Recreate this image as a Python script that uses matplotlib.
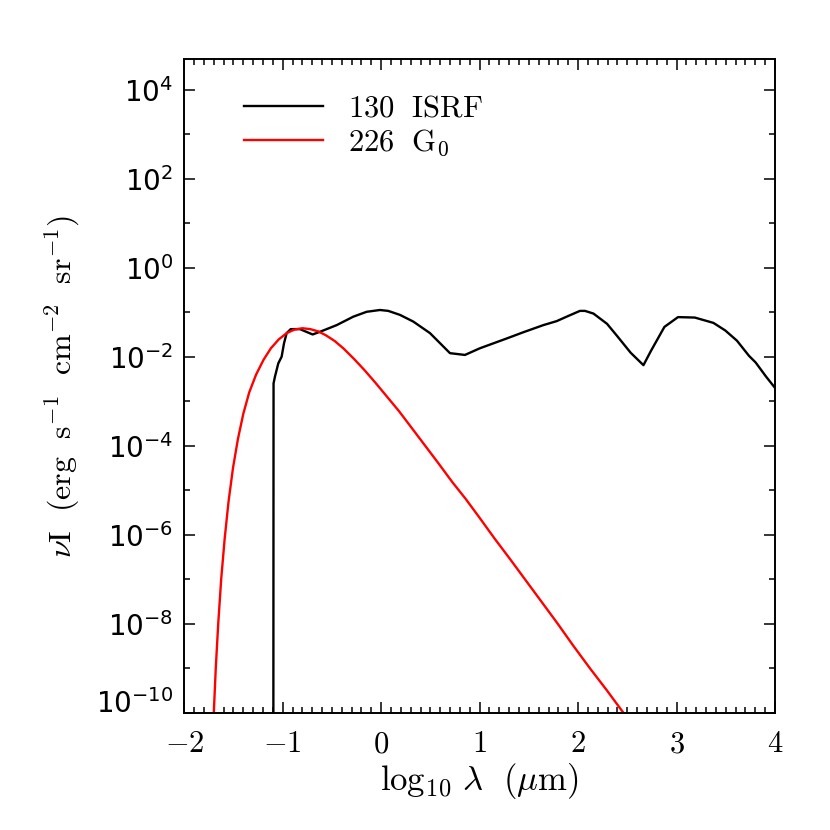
import numpy as np
import matplotlib
matplotlib.use('Agg')
import matplotlib.pyplot as plt
from matplotlib.ticker import FixedLocator, MultipleLocator, FuncFormatter

plt.rcParams['mathtext.fontset'] = 'cm'
plt.rcParams['font.family'] = 'DejaVu Sans'

# ISRF spectrum, log10 lambda (um) vs log10 nu I
isrf_loglam = [-1.095, -1.093, -1.079, -1.045, -1.011, -0.987, -0.960, -0.919,
               -0.825, -0.696, -0.622, -0.452, -0.283, -0.147, -0.012, 0.072,
               0.191, 0.326, 0.496, 0.699, 0.851, 1.003, 1.139, 1.275, 1.444,
               1.647, 1.783, 1.884, 2.019, 2.070, 2.156, 2.294, 2.395, 2.534,
               2.664, 2.740, 2.877, 3.015, 3.186, 3.375, 3.495, 3.614, 3.736,
               3.804, 3.907, 4.000]
isrf_lognuI = [-10.5, -2.60, -2.45, -2.15, -2.00, -1.70, -1.47, -1.38,
               -1.38, -1.50, -1.44, -1.29, -1.10, -0.99, -0.95, -0.97,
               -1.06, -1.21, -1.47, -1.92, -1.96, -1.81, -1.70, -1.59, -1.45,
               -1.29, -1.20, -1.10, -0.97, -0.97, -1.03, -1.26, -1.53, -1.91,
               -2.19, -1.87, -1.33, -1.11, -1.12, -1.24, -1.41, -1.64, -1.98,
               -2.13, -2.44, -2.70]

# G0 radiation field
g0_loglam = [-1.700, -1.680, -1.655, -1.625, -1.590, -1.550, -1.505, -1.455,
             -1.400, -1.340, -1.270, -1.195, -1.120, -1.040, -0.960, -0.880,
             -0.800, -0.720, -0.640, -0.560, -0.470, -0.380, -0.280, -0.170,
             -0.060, 0.060, 0.180, 0.300, 0.440, 0.580, 0.720, 0.860, 1.000,
             1.150, 1.300, 1.460, 1.620, 1.790, 1.950, 2.120, 2.290, 2.460]
g0_lognuI = [-10.00, -9.00, -8.00, -7.00, -6.10, -5.25, -4.50, -3.85,
             -3.28, -2.80, -2.40, -2.07, -1.81, -1.61, -1.47, -1.39,
             -1.36, -1.38, -1.43, -1.52, -1.65, -1.82, -2.04, -2.30,
             -2.58, -2.90, -3.22, -3.57, -3.98, -4.39, -4.81, -5.20, -5.62,
             -6.08, -6.52, -7.00, -7.48, -7.99, -8.49, -9.00, -9.49, -10.00]

labels = [r'$\mathrm{130\ \ ISRF}$', r'$\mathrm{226\ \ G_0}$']

fig = plt.figure(figsize=(8.3, 8.3), dpi=100)
ax = fig.add_axes([0.2220, 0.1413, 0.7117, 0.7876])

ax.plot(isrf_loglam, 10.0 ** np.array(isrf_lognuI), color='black', lw=1.7, label=labels[0])
ax.plot(g0_loglam, 10.0 ** np.array(g0_lognuI), color='red', lw=1.7, label=labels[1])

ax.set_yscale('log')
ax.set_xlim(-2, 4)
ax.set_ylim(1e-10, 10 ** 4.69)

ax.xaxis.set_major_locator(MultipleLocator(1))
ax.xaxis.set_minor_locator(MultipleLocator(0.1))
ax.xaxis.set_major_formatter(FuncFormatter(lambda v, p: r'$\mathrm{%d}$' % round(v)))

ax.yaxis.set_major_locator(FixedLocator([10.0 ** k for k in range(-10, 5, 2)]))
ax.yaxis.set_minor_locator(FixedLocator([10.0 ** k for k in range(-9, 5, 2)]))
ax.yaxis.set_major_formatter(FuncFormatter(
    lambda v, p: r'$\mathdefault{10^{%d}}$' % round(np.log10(v))))
ax.yaxis.set_minor_formatter(FuncFormatter(lambda v, p: ''))

ax.tick_params(which='both', direction='in', top=True, right=True, width=1.1)
ax.tick_params(which='major', length=8)
ax.tick_params(which='minor', length=4.3)
ax.tick_params(axis='x', which='major', labelsize=22, pad=12)
ax.tick_params(axis='y', which='major', labelsize=20, pad=8)
for s in ax.spines.values():
    s.set_linewidth(1.4)

# bottom label sits a bit above its tick, as in the original
ax.yaxis.get_major_ticks()[0].label1.set_verticalalignment('baseline')

ax.set_xlabel(r'$\mathrm{log_{10}}\ \lambda\ \ (\mu\mathrm{m})$', fontsize=25, labelpad=2)
ax.set_ylabel(r'$\nu\mathrm{I\ \ (erg\ \ s^{-1}\ \ cm^{-2}\ \ sr^{-1})}$', fontsize=23, labelpad=10)

ax.legend(loc='upper left', frameon=False, fontsize=22, handlelength=2.6,
          handletextpad=0.8, labelspacing=0.15, borderaxespad=0.2,
          bbox_to_anchor=(0.07, 0.975))

fig.savefig('out.png', dpi=100)
